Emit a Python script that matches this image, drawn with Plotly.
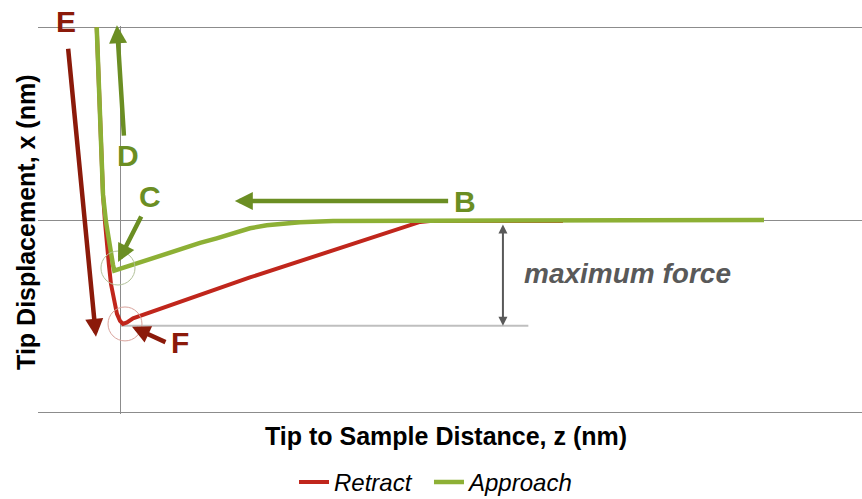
import plotly.graph_objects as go

# ---- data ----
retract_z = [-0.284, -0.244, -0.207, -0.183, -0.159, -0.134, -0.110, -0.073, -0.037, 0.000,
             0.037, 0.085, 0.159, 1.585, 3.659, 3.780, 5.402]
retract_x = [1.0, 0.518, 0.130, -0.010, -0.140, -0.238, -0.332, -0.425, -0.487, -0.523,
             -0.539, -0.531, -0.510, -0.298, -0.010, -0.005, -0.005]

approach_z = [7.854, 3.780, 3.618, 3.009, 2.598, 2.195, 1.991, 1.789, 1.585, 1.382, 1.179,
              0.976, 0.366, -0.0695, -0.0854, -0.122, -0.171, -0.207, -0.244, -0.284]
approach_x = [0.0, 0.0, 0.0, -0.0036, -0.005, -0.012, -0.017, -0.0275, -0.043, -0.066, -0.095,
              -0.119, -0.205, -0.263, -0.233, -0.140, -0.010, 0.130, 0.518, 1.0]

series_names = ["Retract", "Approach"]
y_ticks = [-1, 0, 1]

max_force_level = -0.549   # adhesion minimum level
max_force_end = 4.98
max_force_arrow_z = 4.67

# labelled arrows: (label, tail z, tail x, tip z, tip x, label z, label x, kind)
arrows = [
    ("E", -0.634, 0.896, -0.293, -0.606, -0.66, 0.985, "red"),
    ("D", 0.049, 0.430, -0.037, 1.010, 0.098, 0.335, "green"),
    ("C", 0.268, 0.026, -0.024, -0.218, 0.366, 0.12, "green"),
    ("B", 4.02, 0.098, 1.40, 0.098, 4.21, 0.098, "green"),
    ("F", 0.573, -0.637, 0.146, -0.554, 0.732, -0.637, "red"),
]

RED = "#C0261C"
GREEN = "#8DB035"
DARK_RED = "#8B1A0A"
OLIVE = "#6B8E23"
GRID = "#8C8C8C"
FONT = "Liberation Sans, Arial, sans-serif"

fig = go.Figure()
fig.add_trace(go.Scatter(x=retract_z, y=retract_x, mode="lines", name=series_names[0],
                         line=dict(color=RED, width=4), legend="legend"))
fig.add_trace(go.Scatter(x=approach_z, y=approach_x, mode="lines", name=series_names[1],
                         line=dict(color=GREEN, width=4.5), legend="legend2"))

annotations = []
for lab, tz, tx, hz, hx, lz, lx, kind in arrows:
    col = DARK_RED if kind == "red" else OLIVE
    annotations.append(dict(x=hz, y=hx, ax=tz, ay=tx, xref="x", yref="y", axref="x", ayref="y",
                            text="", showarrow=True, arrowhead=2, arrowsize=0.8,
                            arrowwidth=4.5, arrowcolor=col, standoff=0))
    annotations.append(dict(x=lz, y=lx, xref="x", yref="y", text="<b>%s</b>" % lab,
                            showarrow=False, font=dict(family=FONT, size=30, color=col),
                            xanchor="center", yanchor="middle",
                            yshift=9 if lab == "E" else 0))

# maximum force double arrow
annotations.append(dict(x=max_force_arrow_z, y=max_force_level, ax=max_force_arrow_z, ay=-0.016,
                        xref="x", yref="y", axref="x", ayref="y", text="", showarrow=True,
                        arrowhead=2, arrowside="end+start", arrowsize=0.9, arrowwidth=2,
                        arrowcolor="#595959", standoff=0, startstandoff=0, startarrowhead=2,
                        startarrowsize=0.9))
annotations.append(dict(x=4.90, y=-0.275, xref="x", yref="y", text="<b><i>maximum force</i></b>",
                        showarrow=False, xanchor="left", yanchor="middle",
                        font=dict(family=FONT, size=28, color="#595959")))

# axis titles
annotations.append(dict(x=0.495, y=-0.057, xref="paper", yref="paper",
                        text="<b>Tip to Sample Distance, z (nm)</b>", showarrow=False,
                        xanchor="center", yanchor="middle",
                        font=dict(family=FONT, size=25, color="black")))
annotations.append(dict(x=-0.0146, y=0.495, xref="paper", yref="paper",
                        text="<b>Tip Displacement, x (nm)</b>", showarrow=False, textangle=-90,
                        xanchor="center", yanchor="middle",
                        font=dict(family=FONT, size=25, color="black")))

shapes = [
    dict(type="line", x0=0, x1=max_force_end, y0=max_force_level, y1=max_force_level,
         xref="x", yref="y", line=dict(color="#BFBFBF", width=2), layer="below"),
    dict(type="circle", x0=-0.232, x1=0.183, y0=-0.337, y1=-0.161, xref="x", yref="y",
         line=dict(color="#B3C29A", width=1)),
    dict(type="circle", x0=-0.146, x1=0.268, y0=-0.627, y1=-0.451, xref="x", yref="y",
         line=dict(color="#D9A39C", width=1)),
]

legend_style = dict(orientation="h", xanchor="left", y=-0.176, yanchor="middle",
                    font=dict(family=FONT, size=24, color="black", style="italic"),
                    bgcolor="rgba(0,0,0,0)")

fig.update_layout(
    width=862, height=499,
    margin=dict(l=38, r=0, t=26, b=85, autoexpand=False),
    paper_bgcolor="white", plot_bgcolor="white",
    font=dict(family=FONT),
    showlegend=True,
    legend=dict(x=0.3107, **legend_style),
    legend2=dict(x=0.4745, **legend_style),
    xaxis=dict(range=[-1, 9.049], showgrid=False, showticklabels=False, ticks="",
               zeroline=True, zerolinecolor=GRID, zerolinewidth=1, showline=False),
    yaxis=dict(range=[-1.006, 1.006], tickvals=y_ticks, showgrid=True, gridcolor=GRID,
               gridwidth=1, showticklabels=False, ticks="", zeroline=False, showline=False),
    annotations=annotations,
    shapes=shapes,
)

fig.write_html("out.html", config={"displayModeBar": False},
               post_script="document.body.style.margin='0px';")
